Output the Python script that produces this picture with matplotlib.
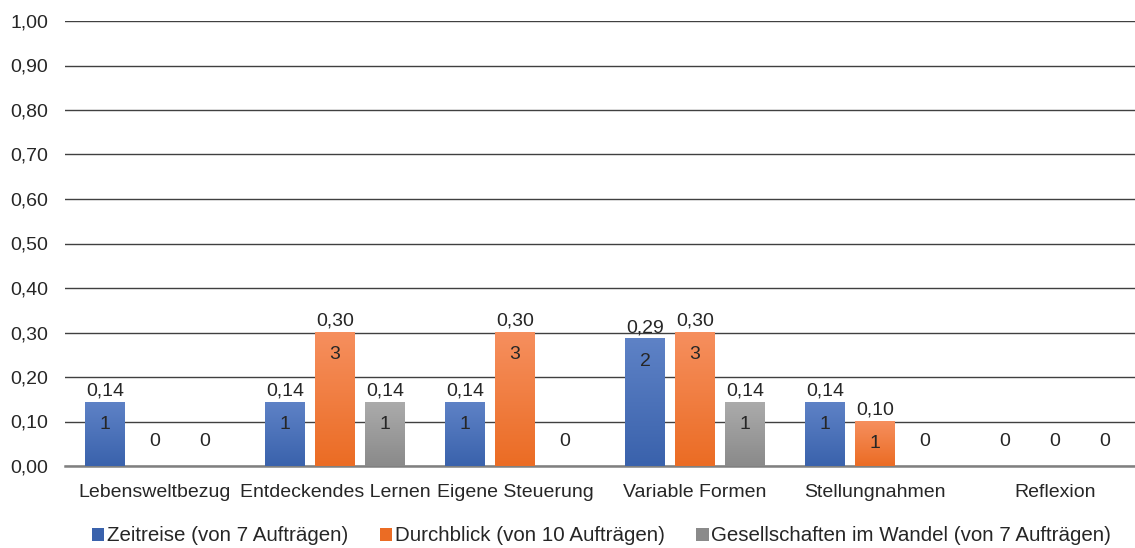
import numpy as np
import matplotlib
matplotlib.use("Agg")
import matplotlib.pyplot as plt
from matplotlib.colors import LinearSegmentedColormap
from matplotlib.patches import Patch

plt.rcParams['font.family'] = ['Liberation Sans', 'DejaVu Sans']

categories = ["Lebensweltbezug", "Entdeckendes Lernen", "Eigene Steuerung",
              "Variable Formen", "Stellungnahmen", "Reflexion"]
series = ["Zeitreise (von 7 Aufträgen)", "Durchblick (von 10 Aufträgen)",
          "Gesellschaften im Wandel (von 7 Aufträgen)"]
totals = [7, 10, 7]
counts = [
    [1, 1, 1, 2, 1, 0],
    [0, 3, 3, 3, 1, 0],
    [0, 1, 0, 1, 0, 0],
]
ytick_labels = ["0,00", "0,10", "0,20", "0,30", "0,40", "0,50",
                "0,60", "0,70", "0,80", "0,90", "1,00"]

# top / bottom colours of the gradient fills
grad_colors = [("#5E82C6", "#3A62AC"), ("#F68F5E", "#EB6C24"), ("#ABABAB", "#8A8A8A")]
text_color = "#262626"
fs = 14

fig = plt.figure(figsize=(11.35, 5.48), dpi=100)
ax = fig.add_axes([65 / 1135, 1 - 466 / 548, 1070 / 1135, 445 / 548])

x = np.arange(len(categories))
width = 0.222
offsets = [-0.278, 0, 0.278]

for i in range(3):
    vals = [c / totals[i] for c in counts[i]]
    bars = ax.bar(x + offsets[i], vals, width, color=grad_colors[i][1], zorder=2)
    cmap = LinearSegmentedColormap.from_list("g%d" % i, [grad_colors[i][0], grad_colors[i][1]])
    grad = np.linspace(0, 1, 100).reshape(-1, 1)
    for b, v, c in zip(bars, vals, counts[i]):
        cx = b.get_x() + b.get_width() / 2
        if v > 0:
            ax.imshow(grad, extent=[b.get_x(), b.get_x() + b.get_width(), 0, v],
                      aspect='auto', cmap=cmap, origin='upper', zorder=3)
            ax.text(cx, v + 0.006, ("%.2f" % v).replace(".", ","),
                    ha='center', va='bottom', fontsize=fs, color=text_color, zorder=4)
            ax.text(cx, v - 0.05, str(c),
                    ha='center', va='center', fontsize=fs, color=text_color, zorder=4)
        else:
            ax.text(cx, 0.056, "0",
                    ha='center', va='center', fontsize=fs, color=text_color, zorder=4)

ax.set_axisbelow(True)
ax.set_xlim(-0.5, -0.5 + 1070 / 180)
ax.set_ylim(0, 1.0)
ax.set_yticks(np.arange(0, 1.01, 0.1))
ax.set_yticklabels(ytick_labels)
ax.set_xticks(x)
ax.set_xticklabels(categories)
ax.tick_params(axis='both', length=0, labelsize=fs, colors=text_color)
ax.tick_params(axis='x', pad=13)
ax.tick_params(axis='y', pad=12)
ax.grid(axis='y', color='#404040', linewidth=1.0)
ax.axhline(0, color='#808080', linewidth=1.8, zorder=1, clip_on=False)
for s in ax.spines.values():
    s.set_visible(False)

handles = [Patch(facecolor=grad_colors[i][1]) for i in range(3)]
fig.legend(handles, series, loc='lower center', bbox_to_anchor=(0.530, -0.029), ncol=3,
           frameon=False, fontsize=14.8, handlelength=0.6, handleheight=0.6,
           handletextpad=0.12, columnspacing=1.55, labelcolor=text_color)

fig.savefig("out.png", dpi=100)
